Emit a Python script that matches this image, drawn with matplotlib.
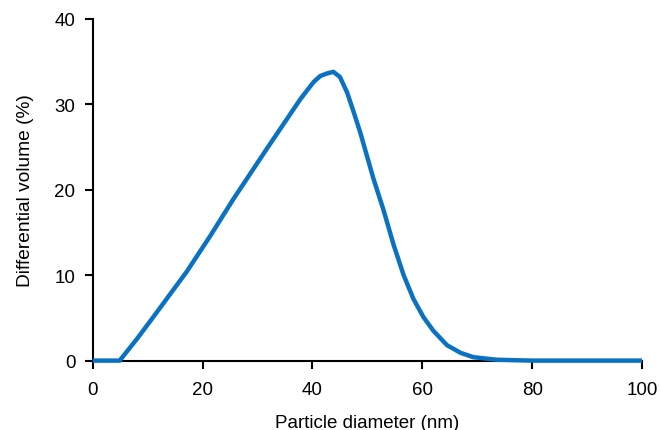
import matplotlib
matplotlib.use("Agg")
import matplotlib.pyplot as plt

plt.rcParams['font.family'] = ['Liberation Sans', 'DejaVu Sans']

# particle size distribution
diameter = [0, 4.9, 8, 11.6, 14, 17.1, 21.4, 25.6, 31.7, 37.8, 40.2, 41.4,
            42.6, 43.8, 45.0, 46.3, 47.5, 48.7, 49.9, 51.1, 52.9, 54.8, 56.6,
            58.4, 60.2, 62, 64.5, 67, 69.3, 73.6, 80, 100]
volume = [0, 0, 2.5, 5.6, 7.7, 10.4, 14.6, 18.9, 24.8, 30.6, 32.6, 33.3,
          33.6, 33.8, 33.2, 31.4, 29.1, 26.7, 24.0, 21.3, 17.7, 13.5, 10.0,
          7.2, 5.1, 3.5, 1.8, 0.9, 0.4, 0.1, 0, 0]

xticks = [0, 20, 40, 60, 80, 100]
yticks = [0, 10, 20, 30, 40]

fig = plt.figure(figsize=(6.61, 4.31), dpi=100)
ax = fig.add_axes([0.1403, 0.161, 0.831, 0.793])

ax.plot(diameter, volume, color='#0a72c0', lw=3.2, solid_joinstyle='round',
        solid_capstyle='butt', clip_on=False, zorder=3)

ax.set_xlim(0, 100)
ax.set_ylim(0, 40)
ax.set_xticks(xticks)
ax.set_yticks(yticks)

for s in ['top', 'right']:
    ax.spines[s].set_visible(False)
for s in ['left', 'bottom']:
    ax.spines[s].set_linewidth(1.5)
ax.tick_params(direction='out', length=5.5, width=1.5, labelsize=13.5)
ax.tick_params(axis='x', pad=9)
ax.tick_params(axis='y', pad=7)

ax.set_xlabel('Particle diameter (nm)', fontsize=13.5, labelpad=12)
ax.set_ylabel('Differential volume (%)', fontsize=13.8, labelpad=15)

fig.savefig('out.png', dpi=100)
